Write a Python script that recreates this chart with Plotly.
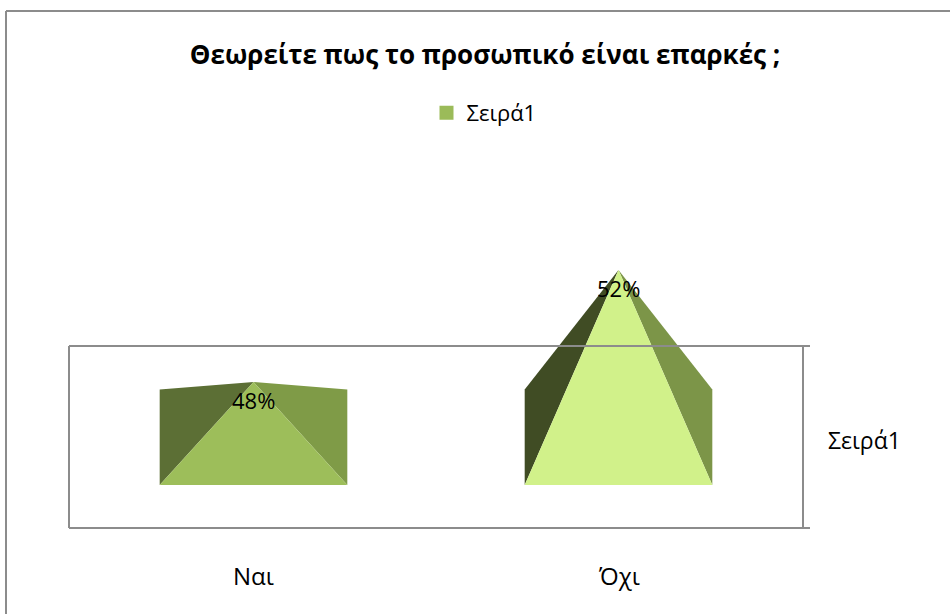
import plotly.graph_objects as go

# ---- data ----
categories = ["Ναι", "Όχι"]
values = [48, 52]                 # percent
value_labels = ["48%", "52%"]
series_name = "Σειρά1"
title_text = "Θεωρείτε πως το προσωπικό είναι επαρκές ;"

# ---- style ----
front_colors = ["#9DBE5A", "#D1F18A"]
left_colors = ["#5C6F35", "#404C24"]
right_colors = ["#7F9B47", "#7C9548"]
legend_color = "#9BBB59"
grid_color = "#8C8C8C"
FONT = "Open Sans"

W, H = 950, 614
floor_val = 44.32          # value at pyramid base (3D axis floor)
shoulder_off = 3.41        # projected height of back corners
half_w = 0.257             # half pyramid width in category units

px_per_cat = 365.0
x_left_px = 253.5
x_range = [-x_left_px / px_per_cat, 1 + (W - x_left_px - px_per_cat) / px_per_cat]
px_per_val = 28.0
y_top = values[1] + 270 / px_per_val
y_bot = values[1] - (H - 270) / px_per_val

fig = go.Figure()

def px(xp):
    return xp / W

def py(yp):
    return 1 - yp / H

for i, (cat, v) in enumerate(zip(categories, values)):
    sh = floor_val + shoulder_off
    faces = [
        ([i - half_w, i - half_w, i, i - half_w], [floor_val, sh, v, floor_val], left_colors[i]),
        ([i + half_w, i + half_w, i, i + half_w], [floor_val, sh, v, floor_val], right_colors[i]),
        ([i - half_w, i + half_w, i, i - half_w], [floor_val, floor_val, v, floor_val], front_colors[i]),
    ]
    for xs, ys, c in faces:
        fig.add_trace(go.Scatter(x=xs, y=ys, mode="lines", fill="toself",
                                 fillcolor=c, line=dict(width=0, color=c),
                                 hoverinfo="skip", showlegend=False))
    fig.add_annotation(x=i, y=v, text=value_labels[i], showarrow=False,
                       xanchor="center", yanchor="middle",
                       yshift=-18, font=dict(family=FONT, size=22, color="#000000"))
    fig.add_annotation(x=i, y=py(575), yref="paper", text=cat, showarrow=False,
                       xanchor="center", yanchor="middle",
                       font=dict(family=FONT, size=24, color="#000000"))

# legend entry
fig.add_trace(go.Scatter(x=[None], y=[None], mode="markers", name=series_name,
                         marker=dict(symbol="square", size=14, color=legend_color),
                         showlegend=True))

shapes = [
    # outer chart border (only top/left visible in frame)
    dict(type="line", xref="paper", yref="paper", x0=px(6), x1=px(960), y0=py(11), y1=py(11),
         line=dict(color=grid_color, width=2)),
    dict(type="line", xref="paper", yref="paper", x0=px(6), x1=px(6), y0=py(11), y1=py(620),
         line=dict(color=grid_color, width=2)),
    # 3D wall box
    dict(type="line", xref="paper", yref="paper", x0=px(69), x1=px(810), y0=py(346), y1=py(346),
         line=dict(color=grid_color, width=2)),
    dict(type="line", xref="paper", yref="paper", x0=px(69), x1=px(810), y0=py(528), y1=py(528),
         line=dict(color=grid_color, width=2)),
    dict(type="line", xref="paper", yref="paper", x0=px(69), x1=px(69), y0=py(346), y1=py(528),
         line=dict(color=grid_color, width=2)),
    dict(type="line", xref="paper", yref="paper", x0=px(803), x1=px(803), y0=py(346), y1=py(528),
         line=dict(color=grid_color, width=2)),
]

fig.add_annotation(x=px(864), y=py(440), xref="paper", yref="paper", text=series_name,
                   xanchor="center", yanchor="middle",
                   showarrow=False, font=dict(family=FONT, size=23, color="#000000"))

fig.update_layout(
    width=W, height=H,
    margin=dict(l=0, r=0, t=0, b=0),
    paper_bgcolor="white", plot_bgcolor="white",
    shapes=shapes,
    title=dict(text="<b>" + title_text + "</b>", x=485 / W, xanchor="center",
               y=py(55), yanchor="middle",
               font=dict(family=FONT, size=26, color="#000000")),
    xaxis=dict(range=x_range, visible=False, fixedrange=True),
    yaxis=dict(range=[y_bot, y_top], visible=False, fixedrange=True),
    legend=dict(x=484 / W, xanchor="center", y=py(113), yanchor="middle",
                orientation="h", font=dict(family=FONT, size=22, color="#000000"),
                bgcolor="rgba(0,0,0,0)", itemwidth=30),
    showlegend=True,
)

fig.write_html("out.html", config={"displayModeBar": False},
               post_script="document.body.style.margin='0px';")
